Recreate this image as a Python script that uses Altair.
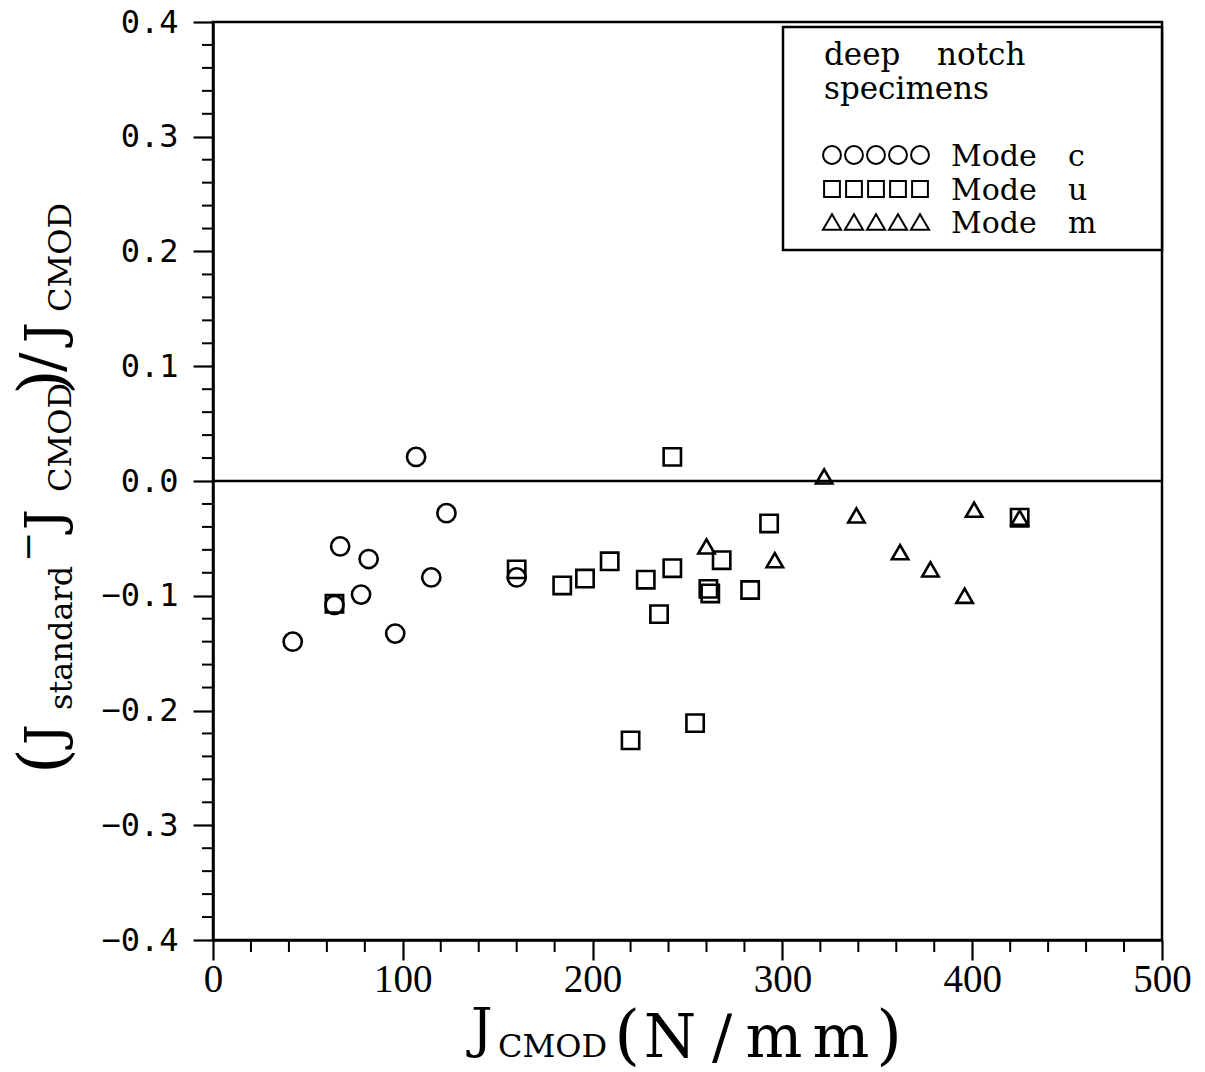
import altair as alt
import pandas as pd

# ---- data ----
c_x = [42, 64, 67, 78, 82, 96, 107, 115, 123, 160]
c_y = [-0.140, -0.108, -0.057, -0.099, -0.068, -0.133, 0.021, -0.084, -0.028, -0.084]

u_x = [64, 160, 184, 196, 209, 220, 228, 235, 242, 242, 254, 261, 262, 268, 283, 293, 425]
u_y = [-0.107, -0.077, -0.091, -0.085, -0.070, -0.226, -0.086, -0.116, 0.021, -0.076,
       -0.211, -0.094, -0.098, -0.069, -0.095, -0.037, -0.032]

m_x = [260, 296, 322, 339, 362, 378, 396, 401, 425]
m_y = [-0.057, -0.069, 0.004, -0.030, -0.062, -0.077, -0.100, -0.025, -0.032]

x_major = [0, 100, 200, 300, 400, 500]
x_minor = [20, 40, 60, 80, 120, 140, 160, 180, 220, 240, 260, 280, 320, 340, 360, 380, 420, 440, 460, 480]
y_major = [-0.4, -0.3, -0.2, -0.1, 0.0, 0.1, 0.2, 0.3, 0.4]
y_minor = [-0.38, -0.36, -0.34, -0.32, -0.28, -0.26, -0.24, -0.22, -0.18, -0.16, -0.14, -0.12,
           -0.08, -0.06, -0.04, -0.02, 0.02, 0.04, 0.06, 0.08, 0.12, 0.14, 0.16, 0.18,
           0.22, 0.24, 0.26, 0.28, 0.32, 0.34, 0.36, 0.38]

modes = ["Mode c", "Mode u", "Mode m"]
mode_letters = ["c", "u", "m"]
shapes = ["circle", "square", "triangle-up"]

# ---- layout constants ----
W, H = 949, 918
L, T = 213, 22

df = pd.DataFrame({
    "J": c_x + u_x + m_x,
    "r": c_y + u_y + m_y,
    "mode": [modes[0]] * len(c_x) + [modes[1]] * len(u_x) + [modes[2]] * len(m_x),
})

xs = alt.Scale(domain=[0, 500], nice=False, zero=False)
ys = alt.Scale(domain=[-0.4, 0.4], nice=False, zero=False)

points = alt.Chart(df).mark_point(filled=False, strokeWidth=2.6, color="black", opacity=1).encode(
    x=alt.X("J:Q", scale=xs,
            axis=alt.Axis(values=x_major, format="d", tickSize=20, tickWidth=2.2,
                          labelFont="Liberation Serif", labelFontSize=39, labelColor="black",
                          labelPadding=0, domainColor="black", domainWidth=2.5,
                          tickColor="black", grid=False, title=None, labelFlush=False)),
    y=alt.Y("r:Q", scale=ys,
            axis=alt.Axis(values=y_major, format=".1f", tickSize=20, tickWidth=2.2,
                          labelFont="DejaVu Sans Mono", labelFontSize=32, labelColor="black",
                          labelPadding=15, domainColor="black", domainWidth=2.5,
                          tickColor="black", grid=False, title=None, labelFlush=False)),
    shape=alt.Shape("mode:N", scale=alt.Scale(domain=modes, range=shapes), legend=None),
    size=alt.Size("mode:N", scale=alt.Scale(domain=modes, range=[330, 270, 340]), legend=None),
)

zero = alt.Chart(pd.DataFrame({"z": [0.0]})).mark_rule(color="black", strokeWidth=2.5).encode(
    y=alt.Y("z:Q", scale=ys))

yminor = alt.Chart(pd.DataFrame({"t": y_minor})).mark_rule(color="black", strokeWidth=2).encode(
    y=alt.Y("t:Q", scale=ys), x=alt.value(-11), x2=alt.value(0))

xminor = alt.Chart(pd.DataFrame({"t": x_minor})).mark_rule(color="black", strokeWidth=2).encode(
    x=alt.X("t:Q", scale=xs), y=alt.value(H), y2=alt.value(H + 12))

dummy = pd.DataFrame({"a": [0]})


def txt(s, px, py, size, font="DejaVu Serif", angle=0, align="left", baseline="alphabetic"):
    kw = dict(text=s, x=px - L, y=py - T, fontSize=size, font=font, align=align,
              baseline=baseline, color="black")
    if angle:
        kw["angle"] = angle
    return alt.Chart(dummy).mark_text(**kw)


def sym(shape, px, py, size):
    return alt.Chart(dummy).mark_point(shape=shape, x=px - L, y=py - T, size=size, filled=False,
                                       color="black", strokeWidth=2, opacity=1)


texts = []
# y-axis title pieces (rotated)
texts.append(txt("(", 65, 774, 66, angle=270))
texts.append(txt("J", 62, 745, 52, angle=270))
texts.append(txt("standard", 72, 710, 32, angle=270))
texts.append(txt("\u2212", 40, 562, 36, angle=270))
texts.append(txt("J", 62, 530, 52, angle=270))
texts.append(txt("CMOD", 71, 492, 32, angle=270))
texts.append(txt(")", 65, 395, 66, angle=270))
texts.append(txt("/", 62, 372, 58, angle=270))
texts.append(txt("J", 62, 343, 52, angle=270))
texts.append(txt("CMOD", 71, 312, 32, angle=270))

# x-axis title pieces
texts.append(txt("J", 471, 1047, 54))
texts.append(txt("CMOD", 498, 1057, 32))
texts.append(txt("(", 627, 1057, 66, align="center"))
texts.append(txt("N", 670, 1057, 60, align="center"))
texts.append(txt("/", 722, 1057, 60, align="center"))
texts.append(txt("m", 774, 1057, 60, align="center"))
texts.append(txt("m", 841, 1057, 60, align="center"))
texts.append(txt(")", 889, 1057, 66, align="center"))

# legend box
legend_box = alt.Chart(dummy).mark_rect(fill="white", stroke="black", strokeWidth=2.5).encode(
    x=alt.value(783 - L), x2=alt.value(W), y=alt.value(27 - T), y2=alt.value(250 - T))

legend_layers = [
    txt("deep", 824, 65, 31),
    txt("notch", 937, 65, 31),
    txt("specimens", 824, 99, 31),
]
row_y = [155, 189, 222]
row_size = [320, 250, 330]
sym_x = [832, 854, 876, 898, 920]
for i in range(3):
    for sx in sym_x:
        legend_layers.append(sym(shapes[i], sx, row_y[i], row_size[i]))
    legend_layers.append(txt("Mode", 951, row_y[i] + 11, 30))
    legend_layers.append(txt(mode_letters[i], 1068, row_y[i] + 11, 30))

chart = alt.layer(
    zero, yminor, xminor, points, legend_box, *legend_layers, *texts
).properties(
    width=W, height=H,
    autosize=alt.AutoSizeParams(type="none"),
    padding={"left": L, "top": T, "right": 1205 - L - W, "bottom": 1072 - T - H},
    background="white",
).configure_view(stroke="black", strokeWidth=2.5)

chart.save("out.html", embed_options={"renderer": "svg", "actions": False})
